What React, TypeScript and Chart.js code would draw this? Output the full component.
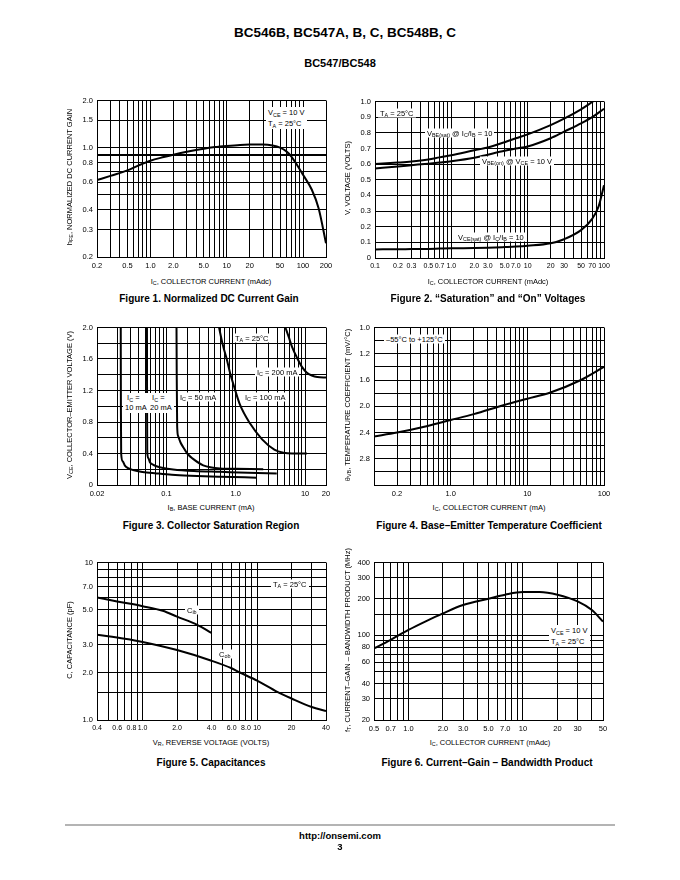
import React, { useEffect, useRef } from 'react';
import { Chart, registerables } from 'chart.js';

Chart.register(...registerables);

const FONT = "'Liberation Sans', Arial, Helvetica, sans-serif";
const YW = 30, PT = 6, PR = 12, XH = 16;

// ---------- helpers for grid values ----------
function logGrid(lo: number, hi: number): number[] {
  const out: number[] = [];
  for (let k = Math.floor(Math.log10(lo)) - 1; k <= Math.ceil(Math.log10(hi)); k++) {
    for (let m = 1; m <= 9; m++) {
      const v = Number((m * Math.pow(10, k)).toPrecision(6));
      if (v >= lo * 0.9999 && v <= hi * 1.0001) out.push(v);
    }
  }
  return out;
}
function linGrid(lo: number, hi: number, step: number): number[] {
  const out: number[] = [];
  const n = Math.round((hi - lo) / step);
  for (let i = 0; i <= n; i++) out.push(Number((lo + i * step).toFixed(6)));
  return out;
}

// ---------- Figure 1 ----------
const fig1Ic = [0.2, 0.3, 0.5, 0.7, 1.0, 1.5, 2.0, 3.0, 5.0, 7.0, 10, 15, 20, 30, 40, 50, 60, 70, 80, 100, 130, 160, 200];
const fig1Hfe = [0.62, 0.66, 0.715, 0.77, 0.825, 0.87, 0.9, 0.94, 0.985, 1.008, 1.025, 1.04, 1.045, 1.045, 1.03, 1.0, 0.95, 0.88, 0.8, 0.67, 0.54, 0.41, 0.245];
const fig1XTicks = [0.2, 0.5, 1, 2, 5, 10, 20, 50, 100, 200];
const fig1XLabels = ['0.2', '0.5', '1.0', '2.0', '5.0', '10', '20', '50', '100', '200'];
const fig1YGrid = [0.2, 0.3, 0.4, 0.5, 0.6, 0.7, 0.8, 0.9, 1.0, 1.5, 2.0];
const fig1YTicks = [0.2, 0.3, 0.4, 0.6, 0.8, 1.0, 1.5, 2.0];
const fig1YLabels = ['0.2', '0.3', '0.4', '0.6', '0.8', '1.0', '1.5', '2.0'];

// ---------- Figure 2 ----------
const fig2IcSat = [0.1, 0.2, 0.3, 0.5, 0.7, 1.0, 2.0, 3.0, 5.0, 7.0, 10, 20, 30, 50, 72];
const fig2VbeSat = [0.6, 0.61, 0.617, 0.63, 0.643, 0.656, 0.688, 0.706, 0.74, 0.765, 0.79, 0.849, 0.89, 0.95, 1.0];
const fig2IcOn = [0.1, 0.2, 0.3, 0.5, 0.7, 1.0, 2.0, 3.0, 5.0, 7.0, 10, 20, 30, 50, 70, 100];
const fig2VbeOn = [0.572, 0.585, 0.593, 0.603, 0.61, 0.618, 0.64, 0.66, 0.685, 0.7, 0.713, 0.765, 0.807, 0.86, 0.9, 0.954];
const fig2IcCe = [0.1, 0.2, 0.3, 0.5, 0.7, 1.0, 2.0, 3.0, 5.0, 7.0, 10, 20, 30, 50, 70, 85, 100];
const fig2VceSat = [0.055, 0.056, 0.057, 0.058, 0.06, 0.062, 0.064, 0.066, 0.07, 0.073, 0.078, 0.094, 0.12, 0.178, 0.25, 0.33, 0.465];
const fig2XTicks = [0.1, 0.2, 0.3, 0.5, 0.7, 1, 2, 3, 5, 7, 10, 20, 30, 50, 70, 100];
const fig2XLabels = ['0.1', '0.2', '0.3', '0.5', '0.7', '1.0', '2.0', '3.0', '5.0', '7.0', '10', '20', '30', '50', '70', '100'];
const fig2YTicks = [0, 0.1, 0.2, 0.3, 0.4, 0.5, 0.6, 0.7, 0.8, 0.9, 1.0];
const fig2YLabels = ['0', '0.1', '0.2', '0.3', '0.4', '0.5', '0.6', '0.7', '0.8', '0.9', '1.0'];

// ---------- Figure 3 ----------
const fig3Ib10 = [0.022, 0.0221, 0.0223, 0.0235, 0.0251, 0.028, 0.0331, 0.045, 0.072, 0.12, 0.22, 0.6, 2.0];
const fig3Vce10 = [2.0, 1.0, 0.4, 0.3, 0.25, 0.215, 0.19, 0.165, 0.147, 0.13, 0.118, 0.105, 0.093];
const fig3Ib20 = [0.0525, 0.0527, 0.053, 0.055, 0.0578, 0.065, 0.072, 0.09, 0.125, 0.25, 0.593, 1.5, 3.9];
const fig3Vce20 = [2.0, 1.0, 0.42, 0.34, 0.29, 0.255, 0.238, 0.215, 0.197, 0.178, 0.167, 0.155, 0.145];
const fig3Ib50 = [0.14, 0.141, 0.143, 0.148, 0.16, 0.175, 0.2, 0.24, 0.34, 0.6, 1.0, 2.49];
const fig3Vce50 = [2.0, 1.4, 0.75, 0.62, 0.54, 0.48, 0.4, 0.335, 0.25, 0.21, 0.205, 0.2];
const fig3Ib100 = [0.575, 0.65, 0.741, 0.83, 0.925, 1.15, 1.61, 2.4, 3.6, 4.87, 6.5, 10.6];
const fig3Vce100 = [2.0, 1.78, 1.6, 1.42, 1.28, 1.02, 0.78, 0.58, 0.45, 0.41, 0.4, 0.4];
const fig3Ib200 = [5.2, 5.8, 6.5, 7.6, 9.0, 10.5, 12.5, 15, 20];
const fig3Vce200 = [2.0, 1.88, 1.75, 1.62, 1.5, 1.43, 1.39, 1.37, 1.365];
const fig3XTicks = [0.01, 0.1, 1, 10, 20];
const fig3XLabels = ['0.02', '0.1', '1.0', '10', '20'];
const fig3YTicks = [0, 0.4, 0.8, 1.2, 1.6, 2.0];
const fig3YLabels = ['0', '0.4', '0.8', '1.2', '1.6', '2.0'];

// ---------- Figure 4 ----------
const fig4Ic = [0.1, 0.2, 0.5, 1.0, 2.0, 5.0, 10, 20, 50, 100];
const fig4Theta = [2.46, 2.4, 2.3, 2.21, 2.12, 1.98, 1.885, 1.79, 1.6, 1.4];
const fig4XTicks = [0.2, 1, 10, 100];
const fig4XLabels = ['0.2', '1.0', '10', '100'];
const fig4YTicks = [0.8, 1.2, 1.6, 2.0, 2.4, 2.8];
const fig4YLabels = ['1.0', '1.2', '1.6', '2.0', '2.4', '2.8'];

// ---------- Figure 5 ----------
const fig5VrIb = [0.4, 0.6, 1.0, 1.5, 2.0, 3.0, 4.0];
const fig5Cib = [6.0, 5.66, 5.28, 4.94, 4.53, 4.02, 3.57];
const fig5VrOb = [0.4, 0.7, 1.0, 2.0, 4.0, 6.0, 7.0, 10, 15, 20, 30, 40];
const fig5Cob = [3.48, 3.28, 3.13, 2.78, 2.38, 2.13, 2.01, 1.78, 1.51, 1.37, 1.21, 1.14];
const fig5XTicks = [0.4, 0.6, 0.8, 1, 2, 4, 6, 8, 10, 20, 40];
const fig5XLabels = ['0.4', '0.6', '0.8', '1.0', '2.0', '4.0', '6.0', '8.0', '10', '20', '40'];
const fig5YGrid = [1, 1.5, 2, 3, 4, 5, 6, 7, 8, 9, 10];
const fig5YTicks = [1, 2, 3, 5, 7, 10];
const fig5YLabels = ['1.0', '2.0', '3.0', '5.0', '7.0', '10'];

// ---------- Figure 6 ----------
const fig6Ic = [0.5, 0.7, 1.0, 1.4, 2.0, 3.0, 5.0, 7.0, 10, 14, 20, 30, 40, 50];
const fig6Ft = [78, 92, 111, 130, 152, 178, 201, 217, 228, 228, 217, 191, 162, 130];
const fig6XTicks = [0.5, 0.7, 1, 2, 3, 5, 7, 10, 20, 30, 50];
const fig6XLabels = ['0.5', '0.7', '1.0', '2.0', '3.0', '5.0', '7.0', '10', '20', '30', '50'];
const fig6YGrid = [20, 30, 40, 50, 60, 70, 80, 90, 100, 150, 200, 300, 400];
const fig6YTicks = [20, 30, 40, 60, 80, 100, 200, 300, 400];
const fig6YLabels = ['20', '30', '40', '60', '80', '100', '200', '300', '400'];

// ---------- generic plot ----------
type AxisCfg = {
  type: 'logarithmic' | 'linear';
  min: number;
  max: number;
  grid: number[];
  ticks: number[];
  labels: string[];
  reverse?: boolean;
  thick?: number[];
  fontSize?: number;
};
type Series = { x: number[]; y: number[] };

const near = (a: number, b: number) => Math.abs(a - b) <= 1e-6 * Math.max(1, Math.abs(b));

function makeScale(a: AxisCfg, dir: 'x' | 'y') {
  return {
    type: a.type,
    min: a.min,
    max: a.max,
    reverse: !!a.reverse,
    position: dir === 'x' ? 'bottom' : 'left',
    afterBuildTicks: (s: any) => {
      s.ticks = a.grid.map((v) => ({ value: v }));
    },
    afterFit: (s: any) => {
      if (dir === 'x') s.height = XH;
      else s.width = YW;
    },
    grid: {
      color: '#000',
      drawTicks: false,
      lineWidth: (c: any) => (a.thick && c.tick && a.thick.some((t) => near(c.tick.value, t)) ? 2 : 1),
    },
    border: { display: true, color: '#000', width: 1 },
    ticks: {
      autoSkip: false,
      maxRotation: 0,
      minRotation: 0,
      padding: 4,
      color: '#000',
      font: { family: FONT, size: a.fontSize ?? 7.5 },
      callback: (v: any) => {
        const i = a.ticks.findIndex((t) => near(Number(v), t));
        return i >= 0 ? a.labels[i] : '';
      },
    },
  };
}

function Plot({ rect, xAxis, yAxis, series }: { rect: number[]; xAxis: AxisCfg; yAxis: AxisCfg; series: Series[] }) {
  const ref = useRef<HTMLCanvasElement>(null);
  const [x0, y0, x1, y1] = rect;
  const w = x1 - x0 + YW + PR;
  const h = y1 - y0 + PT + XH;
  useEffect(() => {
    const chart = new Chart(ref.current as HTMLCanvasElement, {
      type: 'scatter',
      data: {
        datasets: series.map((s) => ({
          data: s.x.map((x, i) => ({ x, y: s.y[i] })),
          showLine: true,
          borderColor: '#000',
          borderWidth: 2,
          pointRadius: 0,
          pointHoverRadius: 0,
          fill: false,
          cubicInterpolationMode: 'monotone',
        })),
      } as any,
      options: {
        responsive: false,
        maintainAspectRatio: false,
        animation: false,
        devicePixelRatio: 1,
        events: [],
        layout: { padding: { top: PT, right: PR, left: 0, bottom: 0 } },
        plugins: { legend: { display: false }, tooltip: { enabled: false }, title: { display: false } },
        scales: { x: makeScale(xAxis, 'x'), y: makeScale(yAxis, 'y') } as any,
      } as any,
    });
    return () => chart.destroy();
  }, []);
  return (
    <canvas
      ref={ref}
      width={w}
      height={h}
      style={{ position: 'absolute', left: x0 - YW, top: y0 - PT, width: w, height: h }}
    />
  );
}

// ---------- text helpers ----------
const Sub = ({ children }: { children: any }) => (
  <span style={{ fontSize: '0.72em', verticalAlign: '-0.3em', lineHeight: 0 }}>{children}</span>
);

function Label({ x, y, align = 'left', size = 7.5, bold = false, bg = false, lh, children }: any) {
  const tx = align === 'center' ? '-50%' : align === 'right' ? '-100%' : '0';
  return (
    <div
      style={{
        position: 'absolute',
        left: x,
        top: y,
        transform: `translate(${tx}, -50%)`,
        fontSize: size,
        fontWeight: bold ? 700 : 400,
        lineHeight: lh ? `${lh}px` : 'normal',
        whiteSpace: 'nowrap',
        background: bg ? '#fff' : 'transparent',
        padding: bg ? '0 2px' : 0,
        color: '#000',
        textAlign: 'left',
      }}
    >
      {children}
    </div>
  );
}

function VLabel({ x, y, size = 7.5, children }: any) {
  return (
    <div
      style={{
        position: 'absolute',
        left: x,
        top: y,
        transform: 'translate(-50%, -50%) rotate(-90deg)',
        fontSize: size,
        whiteSpace: 'nowrap',
        lineHeight: 'normal',
        color: '#000',
      }}
    >
      {children}
    </div>
  );
}

export default function App() {
  const lg = (min: number, max: number, ticks: number[], labels: string[], extra: Partial<AxisCfg> = {}): AxisCfg => ({
    type: 'logarithmic', min, max, grid: logGrid(min, max), ticks, labels, ...extra,
  });
  return (
    <div
      style={{
        position: 'absolute',
        left: 0,
        top: 0,
        width: 680,
        height: 880,
        background: '#fff',
        fontFamily: FONT,
        color: '#000',
        overflow: 'hidden',
      }}
    >
      {/* header */}
      <Label x={345} y={32} align="center" size={13.5} bold>BC546B, BC547A, B, C, BC548B, C</Label>
      <Label x={340} y={63} align="center" size={11} bold>BC547/BC548</Label>

      {/* Figure 1 */}
      <Plot
        rect={[97, 98, 326, 257]}
        xAxis={lg(0.2, 200, fig1XTicks, fig1XLabels)}
        yAxis={{ type: 'logarithmic', min: 0.2, max: 2.0, grid: fig1YGrid, ticks: fig1YTicks, labels: fig1YLabels, thick: [0.9] }}
        series={[{ x: fig1Ic, y: fig1Hfe }]}
      />
      {/* Figure 2 */}
      <Plot
        rect={[375, 99, 604, 258]}
        xAxis={lg(0.1, 100, fig2XTicks, fig2XLabels, { fontSize: 7 })}
        yAxis={{ type: 'linear', min: 0, max: 1.0, grid: linGrid(0, 1.0, 0.1), ticks: fig2YTicks, labels: fig2YLabels }}
        series={[
          { x: fig2IcSat, y: fig2VbeSat },
          { x: fig2IcOn, y: fig2VbeOn },
          { x: fig2IcCe, y: fig2VceSat },
        ]}
      />
      {/* Figure 3 */}
      <Plot
        rect={[97, 325, 326, 485]}
        xAxis={lg(0.01, 20, fig3XTicks, fig3XLabels)}
        yAxis={{ type: 'linear', min: 0, max: 2.0, grid: linGrid(0, 2.0, 0.2), ticks: fig3YTicks, labels: fig3YLabels }}
        series={[
          { x: fig3Ib10, y: fig3Vce10 },
          { x: fig3Ib20, y: fig3Vce20 },
          { x: fig3Ib50, y: fig3Vce50 },
          { x: fig3Ib100, y: fig3Vce100 },
          { x: fig3Ib200, y: fig3Vce200 },
        ]}
      />
      {/* Figure 4 */}
      <Plot
        rect={[374, 325, 604, 485]}
        xAxis={lg(0.1, 100, fig4XTicks, fig4XLabels)}
        yAxis={{ type: 'linear', min: 0.8, max: 3.2, reverse: true, grid: linGrid(0.8, 3.2, 0.2), ticks: fig4YTicks, labels: fig4YLabels }}
        series={[{ x: fig4Ic, y: fig4Theta }]}
      />
      {/* Figure 5 */}
      <Plot
        rect={[97, 560, 326, 720]}
        xAxis={lg(0.4, 40, fig5XTicks, fig5XLabels, { fontSize: 7 })}
        yAxis={{ type: 'logarithmic', min: 1, max: 10, grid: fig5YGrid, ticks: fig5YTicks, labels: fig5YLabels }}
        series={[
          { x: fig5VrIb, y: fig5Cib },
          { x: fig5VrOb, y: fig5Cob },
        ]}
      />
      {/* Figure 6 */}
      <Plot
        rect={[374, 560, 603, 720]}
        xAxis={lg(0.5, 50, fig6XTicks, fig6XLabels)}
        yAxis={{ type: 'logarithmic', min: 20, max: 400, grid: fig6YGrid, ticks: fig6YTicks, labels: fig6YLabels }}
        series={[{ x: fig6Ic, y: fig6Ft }]}
      />

      {/* ---- Figure 1 texts ---- */}
      <Label x={266} y={117.5} bg lh={11}>
        <div>V<Sub>CE</Sub> = 10 V</div>
        <div>T<Sub>A</Sub> = 25°C</div>
      </Label>
      <Label x={211} y={281} align="center">I<Sub>C</Sub>, COLLECTOR CURRENT (mAdc)</Label>
      <VLabel x={69} y={177}>h<Sub>FE</Sub>, NORMALIZED DC CURRENT GAIN</VLabel>
      <Label x={209} y={298} align="center" size={10} bold>Figure 1. Normalized DC Current Gain</Label>

      {/* ---- Figure 2 texts ---- */}
      <Label x={378} y={113} bg>T<Sub>A</Sub> = 25°C</Label>
      <Label x={425} y={133} bg>V<Sub>BE(sat)</Sub> @ I<Sub>C</Sub>/I<Sub>B</Sub> = 10</Label>
      <Label x={480} y={161} bg>V<Sub>BE(on)</Sub> @ V<Sub>CE</Sub> = 10 V</Label>
      <Label x={456} y={237} bg>V<Sub>CE(sat)</Sub> @ I<Sub>C</Sub>/I<Sub>B</Sub> = 10</Label>
      <Label x={488} y={281} align="center">I<Sub>C</Sub>, COLLECTOR CURRENT (mAdc)</Label>
      <VLabel x={347} y={178}>V, VOLTAGE (VOLTS)</VLabel>
      <Label x={488} y={298} align="center" size={10} bold>Figure 2. “Saturation” and “On” Voltages</Label>

      {/* ---- Figure 3 texts ---- */}
      <Label x={233} y={338} bg>T<Sub>A</Sub> = 25°C</Label>
      <Label x={255} y={372} bg>I<Sub>C</Sub> = 200 mA</Label>
      <Label x={243} y={397} bg>I<Sub>C</Sub> = 100 mA</Label>
      <Label x={178} y={397} bg>I<Sub>C</Sub> = 50 mA</Label>
      <Label x={123} y={403} bg lh={10}>
        <div>&nbsp;I<Sub>C</Sub> =</div>
        <div>10 mA</div>
      </Label>
      <Label x={148} y={403} bg lh={10}>
        <div>&nbsp;I<Sub>C</Sub> =</div>
        <div>20 mA</div>
      </Label>
      <Label x={211} y={507} align="center">I<Sub>B</Sub>, BASE CURRENT (mA)</Label>
      <VLabel x={69} y={405}>V<Sub>CE</Sub>, COLLECTOR–EMITTER VOLTAGE (V)</VLabel>
      <Label x={211} y={525} align="center" size={10} bold>Figure 3. Collector Saturation Region</Label>

      {/* ---- Figure 4 texts ---- */}
      <Label x={384} y={339} bg>–55°C to +125°C</Label>
      <Label x={489} y={507} align="center">I<Sub>C</Sub>, COLLECTOR CURRENT (mA)</Label>
      <VLabel x={347} y={405}>θ<Sub>VB</Sub>, TEMPERATURE COEFFICIENT (mV/°C)</VLabel>
      <Label x={489} y={525} align="center" size={10} bold>Figure 4. Base–Emitter Temperature Coefficient</Label>

      {/* ---- Figure 5 texts ---- */}
      <Label x={271} y={584} bg>T<Sub>A</Sub> = 25°C</Label>
      <Label x={185} y={610} bg>C<Sub>ib</Sub></Label>
      <Label x={217} y={654} bg>C<Sub>ob</Sub></Label>
      <Label x={211} y={742} align="center">V<Sub>R</Sub>, REVERSE VOLTAGE (VOLTS)</Label>
      <VLabel x={69} y={640}>C, CAPACITANCE (pF)</VLabel>
      <Label x={211} y={762} align="center" size={10} bold>Figure 5. Capacitances</Label>

      {/* ---- Figure 6 texts ---- */}
      <Label x={549} y={636} bg lh={11}>
        <div>V<Sub>CE</Sub> = 10 V</div>
        <div>T<Sub>A</Sub> = 25°C</div>
      </Label>
      <Label x={490} y={742} align="center">I<Sub>C</Sub>, COLLECTOR CURRENT (mAdc)</Label>
      <VLabel x={347} y={640}>f<Sub>T</Sub>, CURRENT–GAIN – BANDWIDTH PRODUCT (MHz)</VLabel>
      <Label x={487} y={762} align="center" size={10} bold>Figure 6. Current–Gain – Bandwidth Product</Label>

      {/* footer */}
      <div style={{ position: 'absolute', left: 65, top: 824, width: 550, height: 2, background: '#b4b4b4' }} />
      <Label x={340} y={835} align="center" size={9.5} bold>http://onsemi.com</Label>
      <Label x={340} y={846} align="center" size={9.5} bold>3</Label>
    </div>
  );
}
